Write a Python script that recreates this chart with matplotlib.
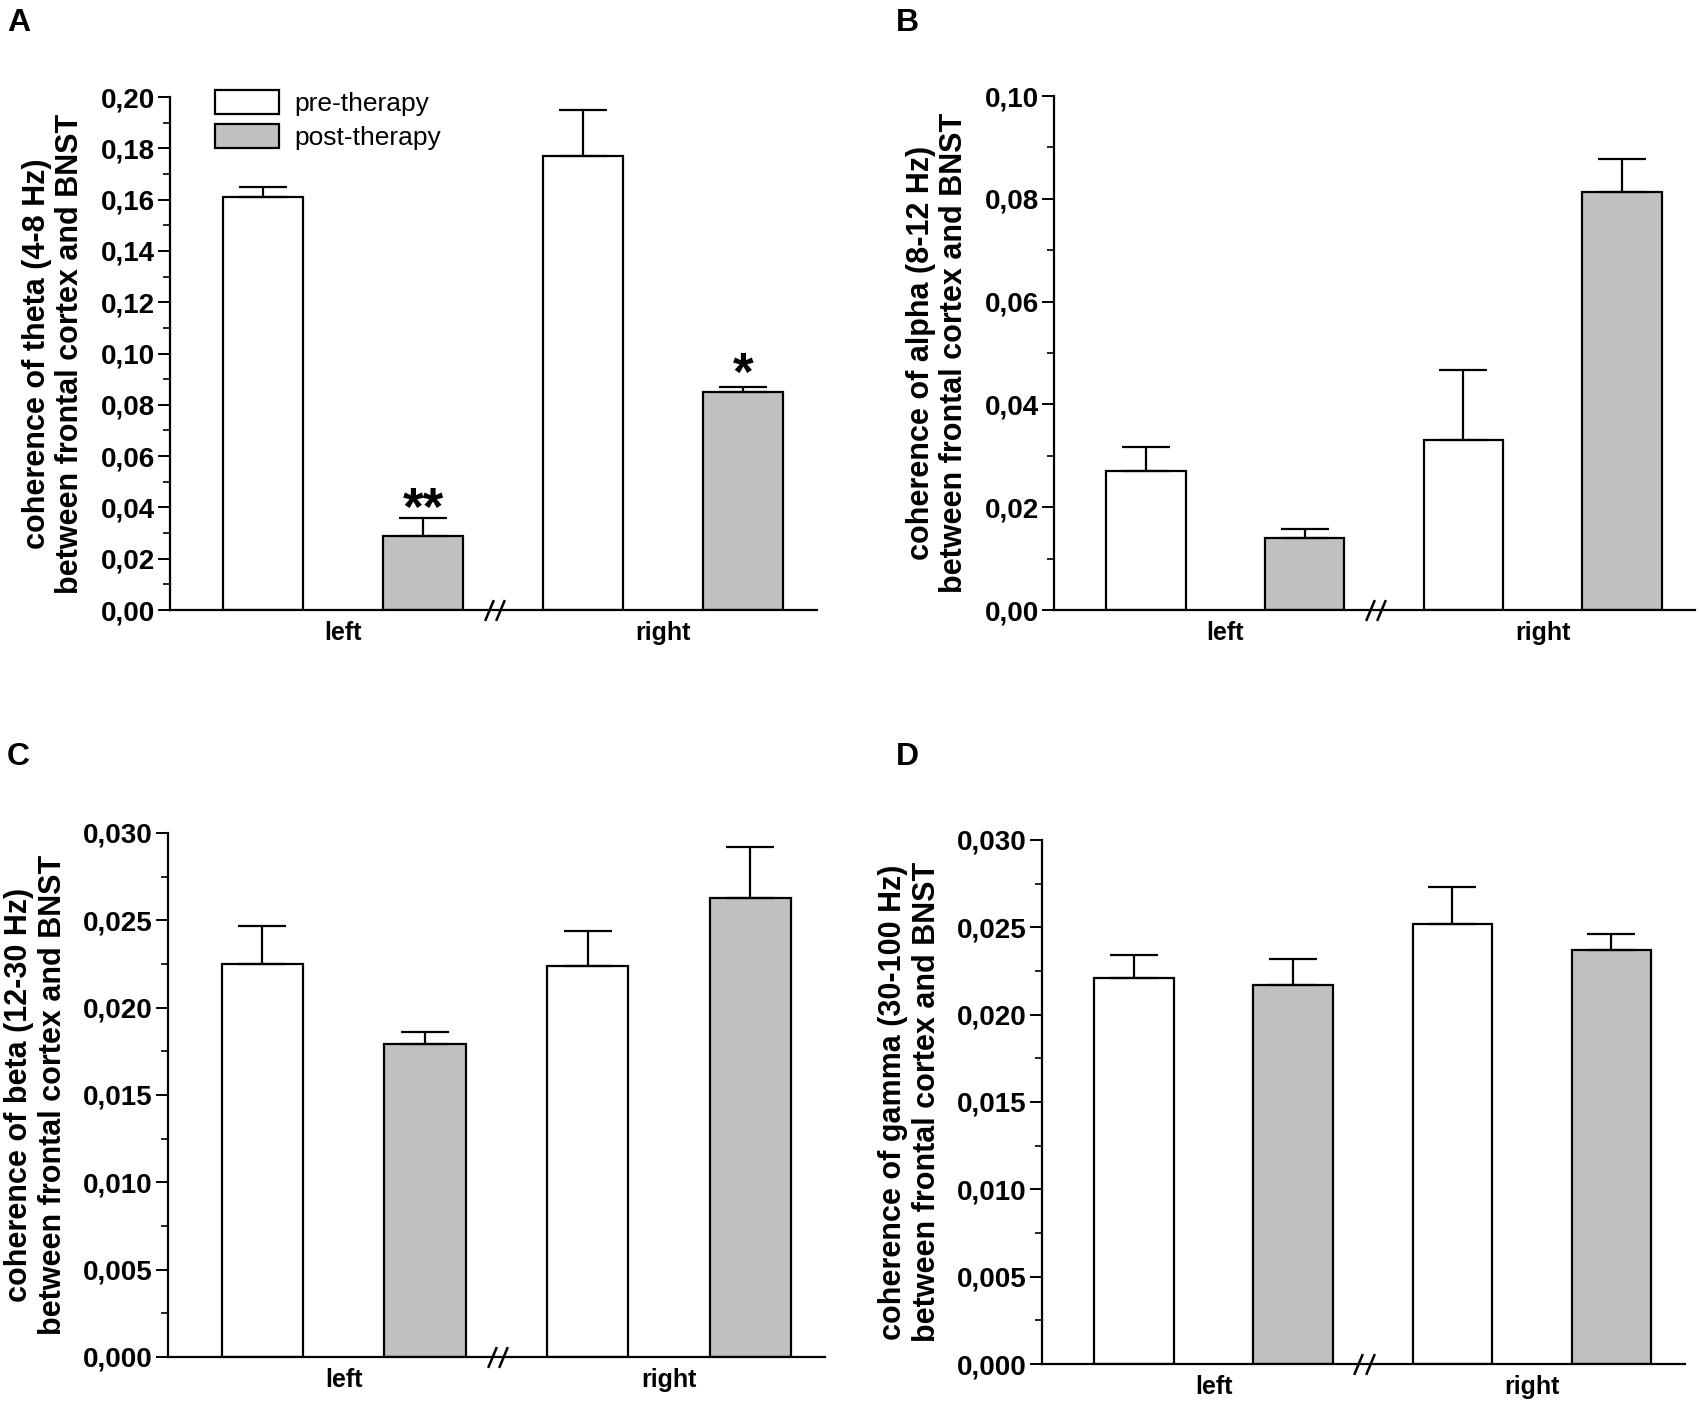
import matplotlib
matplotlib.use("Agg")
import matplotlib.pyplot as plt
from matplotlib.ticker import MultipleLocator, FuncFormatter
import numpy as np

plt.rcParams['font.family'] = ['Liberation Sans', 'DejaVu Sans']

# ---------------------------------------------------
# DATA (order inside each list: left, right)
# ---------------------------------------------------

groups = ["left", "right"]
series_names = ["pre-therapy", "post-therapy"]

theta_pre = [0.161, 0.177]
theta_pre_err = [0.004, 0.018]
theta_post = [0.029, 0.085]
theta_post_err = [0.007, 0.002]
theta_sig = ["**", "*"]

alpha_pre = [0.0271, 0.0331]
alpha_pre_err = [0.0047, 0.0135]
alpha_post = [0.0140, 0.0814]
alpha_post_err = [0.0017, 0.0063]

beta_pre = [0.0225, 0.0224]
beta_pre_err = [0.0022, 0.0020]
beta_post = [0.0179, 0.0263]
beta_post_err = [0.0007, 0.0029]

gamma_pre = [0.0221, 0.0252]
gamma_pre_err = [0.0013, 0.0021]
gamma_post = [0.0217, 0.0237]
gamma_post_err = [0.0015, 0.0009]

PRE_COLOR = "white"
POST_COLOR = "#c0c0c0"

# vertical nudge (points) of the significance stars above the caps
SIG_OFFSETS = [-5.5, -2]


# ---------------------------------------------------
# ONE PANEL
# ---------------------------------------------------

def draw_panel(ax, pre, pre_err, post, post_err, ymax, major, decimals,
               ylabel, sig=None, legend=False):

    # bar slots: left-pre, left-post, right-pre, right-post
    x_pre = np.array([0, 2])
    x_post = np.array([1, 3])

    b_pre = ax.bar(x_pre, pre, width=0.5, color=PRE_COLOR,
                   edgecolor="black", linewidth=1.6, zorder=2)
    b_post = ax.bar(x_post, post, width=0.5, color=POST_COLOR,
                    edgecolor="black", linewidth=1.6, zorder=2)

    for xs, vals, errs in [(x_pre, pre, pre_err), (x_post, post, post_err)]:
        ax.errorbar(xs, vals, yerr=[np.zeros(len(vals)), errs], fmt="none",
                    ecolor="black", elinewidth=1.6, capsize=17,
                    capthick=1.6, zorder=3)

    if sig is not None:
        for xs, vals, errs, s, off in zip(x_post, post, post_err, sig,
                                          SIG_OFFSETS):
            ax.annotate(s, (xs, vals + errs), xytext=(0, off),
                        textcoords="offset points", ha="center",
                        va="baseline", fontsize=38, fontweight="bold")

    ax.set_xlim(-0.58, 3.46)
    ax.set_ylim(0, ymax)

    for side in ["top", "right"]:
        ax.spines[side].set_visible(False)
    for side in ["left", "bottom"]:
        ax.spines[side].set_linewidth(1.6)

    ax.yaxis.set_major_locator(MultipleLocator(major))
    ax.yaxis.set_minor_locator(MultipleLocator(major / 2))
    ax.yaxis.set_major_formatter(
        FuncFormatter(lambda v, p: f"{v:.{decimals}f}".replace(".", ","))
    )
    ax.tick_params(axis="y", which="major", direction="out", length=9,
                   width=1.4, labelsize=20, pad=2)
    ax.tick_params(axis="y", which="minor", direction="out", length=5,
                   width=1.2)
    for lab in ax.get_yticklabels():
        lab.set_fontweight("bold")

    ax.set_xticks([0.5, 2.5])
    ax.set_xticklabels(groups, fontsize=18, fontweight="bold")
    ax.tick_params(axis="x", length=0, pad=8)

    ax.set_ylabel(ylabel, fontsize=22, fontweight="bold", labelpad=11,
                  linespacing=1.15)

    # axis break marks "//"
    ax.plot([1.41, 1.48], [0, 0], transform=ax.get_xaxis_transform(),
            marker=[(-1, -2.4), (1, 2.4)], markersize=15, linestyle="none",
            color="black", mec="black", mew=1.8, clip_on=False, zorder=5)

    if legend:
        ax.legend([b_pre, b_post], series_names, loc="upper left",
                  bbox_to_anchor=(0.07, 1.013), frameon=False, fontsize=19,
                  handlelength=2.4, handleheight=1.0, labelspacing=0.3,
                  handletextpad=0.6, borderpad=0, borderaxespad=0)


# ---------------------------------------------------
# FIGURE
# ---------------------------------------------------

fig = plt.figure(figsize=(17, 14.02), dpi=100)

ax_a = fig.add_axes([0.100, 0.5649, 0.3806, 0.3659])
ax_b = fig.add_axes([0.620, 0.5649, 0.3770, 0.3666])
ax_c = fig.add_axes([0.0988, 0.0321, 0.3865, 0.3738])
ax_d = fig.add_axes([0.6129, 0.0271, 0.3780, 0.3738])

draw_panel(ax_a, theta_pre, theta_pre_err, theta_post, theta_post_err,
           0.20, 0.02, 2,
           "coherence of theta (4-8 Hz)\nbetween frontal cortex and BNST",
           sig=theta_sig, legend=True)
draw_panel(ax_b, alpha_pre, alpha_pre_err, alpha_post, alpha_post_err,
           0.10, 0.02, 2,
           "coherence of alpha (8-12 Hz)\nbetween frontal cortex and BNST")
draw_panel(ax_c, beta_pre, beta_pre_err, beta_post, beta_post_err,
           0.030, 0.005, 3,
           "coherence of beta (12-30 Hz)\nbetween frontal cortex and BNST")
draw_panel(ax_d, gamma_pre, gamma_pre_err, gamma_post, gamma_post_err,
           0.030, 0.005, 3,
           "coherence of gamma (30-100 Hz)\nbetween frontal cortex and BNST")

for letter, (lx, ly) in zip("ABCD", [(0.004, 0.994), (0.527, 0.994),
                                      (0.004, 0.471), (0.527, 0.471)]):
    fig.text(lx, ly, letter, fontsize=23, fontweight="bold",
             ha="left", va="top")

fig.savefig("out.png", dpi=100)
